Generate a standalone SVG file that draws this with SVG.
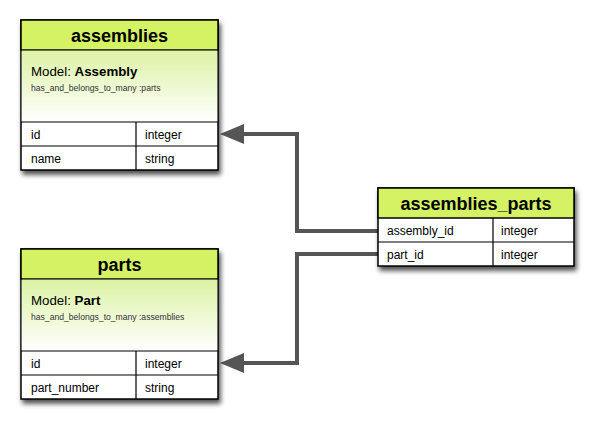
<svg xmlns="http://www.w3.org/2000/svg" width="593" height="424" viewBox="0 0 593 424">
<defs>
<linearGradient id="mg" x1="0" y1="0" x2="0" y2="1">
<stop offset="0" stop-color="#dcf3a4"/>
<stop offset="1" stop-color="#ffffff"/>
</linearGradient>
<filter id="sh" x="-10%" y="-10%" width="130%" height="130%">
<feGaussianBlur in="SourceAlpha" stdDeviation="2.5"/>
<feOffset dx="2" dy="4" result="b"/>
<feComponentTransfer><feFuncA type="linear" slope="0.7"/></feComponentTransfer>
<feMerge><feMergeNode/><feMergeNode in="SourceGraphic"/></feMerge>
</filter>
</defs>
<style>
.box{fill:#fff;stroke:#000;stroke-width:1.5}
.hd{fill:#d4f264;stroke:#000;stroke-width:1.5}
.ln{stroke:#000;stroke-width:1.2}
text{font-family:"Liberation Sans",Arial,sans-serif;fill:#000}
.t{font-size:18px;font-weight:bold;text-anchor:middle}
.m{font-size:13.3px}
.s{font-size:8.6px;fill:#333}
.c{font-size:12px}
.con{fill:none;stroke:#555;stroke-width:4}
</style>
<rect width="593" height="424" fill="#fff"/>
<g id="connectors">
<path class="con" d="M378,231 H297 V134 H243"/>
<path class="con" d="M378,254 H297 V363 H243"/>
<path d="M220,134 L244,124 L244,144 z" fill="#555"/>
<path d="M220,363 L244,353 L244,373 z" fill="#555"/>
</g>
<g id="assemblies">
<g filter="url(#sh)">
<rect class="box" x="21" y="20" width="197" height="150"/>
</g>
<rect class="hd" x="21" y="20" width="197" height="30"/>
<rect x="21.75" y="50.75" width="195.5" height="71" fill="url(#mg)"/>
<line class="ln" x1="21" y1="122" x2="218" y2="122"/>
<line class="ln" x1="21" y1="146" x2="218" y2="146"/>
<line class="ln" x1="136" y1="122" x2="136" y2="170"/>
<text class="t" x="119.5" y="42">assemblies</text>
<text class="m" x="31" y="76">Model: <tspan font-weight="bold">Assembly</tspan></text>
<text class="s" x="31" y="91">has_and_belongs_to_many :parts</text>
<text class="c" x="31" y="139">id</text>
<text class="c" x="145" y="139">integer</text>
<text class="c" x="31" y="163">name</text>
<text class="c" x="145" y="163">string</text>
</g>
<g id="parts">
<g filter="url(#sh)">
<rect class="box" x="21" y="249" width="197" height="150"/>
</g>
<rect class="hd" x="21" y="249" width="197" height="30"/>
<rect x="21.75" y="279.75" width="195.5" height="71" fill="url(#mg)"/>
<line class="ln" x1="21" y1="351" x2="218" y2="351"/>
<line class="ln" x1="21" y1="375" x2="218" y2="375"/>
<line class="ln" x1="136" y1="351" x2="136" y2="399"/>
<text class="t" x="119.5" y="271">parts</text>
<text class="m" x="31" y="305">Model: <tspan font-weight="bold">Part</tspan></text>
<text class="s" x="31" y="320">has_and_belongs_to_many :assemblies</text>
<text class="c" x="31" y="368">id</text>
<text class="c" x="145" y="368">integer</text>
<text class="c" x="31" y="392">part_number</text>
<text class="c" x="145" y="392">string</text>
</g>
<g id="assemblies_parts">
<g filter="url(#sh)">
<rect class="box" x="378" y="188" width="196" height="78"/>
</g>
<rect class="hd" x="378" y="188" width="196" height="30"/>
<line class="ln" x1="378" y1="242" x2="574" y2="242"/>
<line class="ln" x1="493" y1="218" x2="493" y2="266"/>
<text class="t" x="476" y="210">assemblies_parts</text>
<text class="c" x="387" y="235">assembly_id</text>
<text class="c" x="501" y="235">integer</text>
<text class="c" x="387" y="259">part_id</text>
<text class="c" x="501" y="259">integer</text>
</g>
</svg>
